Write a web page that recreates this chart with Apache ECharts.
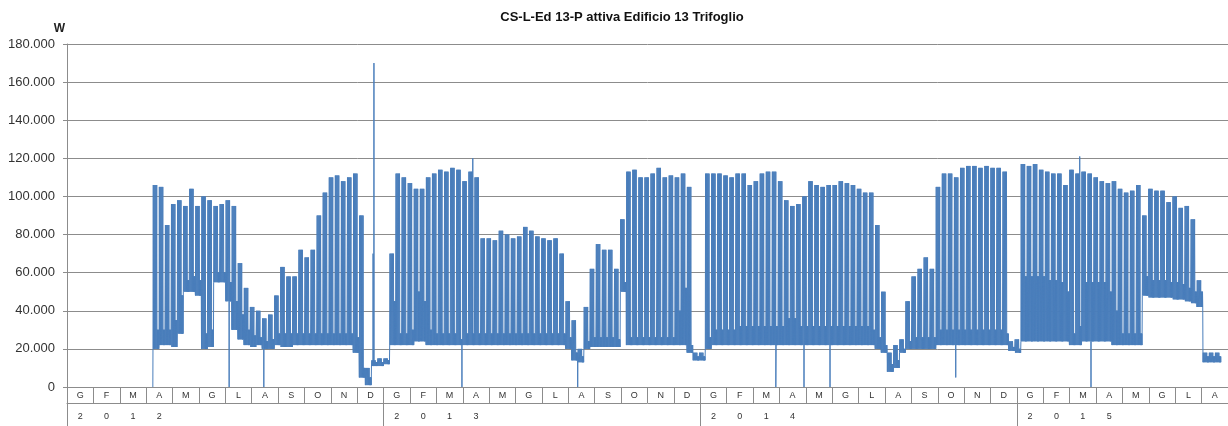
<!DOCTYPE html>
<html>
<head>
<meta charset="utf-8">
<script src="https://cdn.jsdelivr.net/npm/echarts@6/dist/echarts.min.js"></script>
<style>
html,body{margin:0;padding:0;background:#fff;}
#chart{width:1228px;height:426px;}
</style>
</head>
<body>
<div id="chart"></div>
<script>
// ---- tick labels ----
const monthLetters = [
  'G','F','M','A','M','G','L','A','S','O','N','D',
  'G','F','M','A','M','G','L','A','S','O','N','D',
  'G','F','M','A','M','G','L','A','S','O','N','D',
  'G','F','M','A','M','G','L','A'
];
const yearRowLabels = [
  '2','0','1','2','','','','','','','','',
  '2','0','1','3','','','','','','','','',
  '2','0','1','4','','','','','','','','',
  '2','0','1','5','','','',''
];

// ---- weekly readings (kW): weekday peak, night base, weekend top ----
// week index k starts on Monday, day = 1 + 7k (days since 2012-01-01)
const firstWeek2012 = 14;
const peak2012 = [106,105,85,96,98,95,104,95,100,98,95,96,98,95,65,52,42,40,36,38,48,63,58,58,72,68,72,90,102,110,111,108,110,112,90,10,14,15];
const base2012 = [20,22,22,21,28,50,50,48,20,21,55,55,45,30,25,22,21,22,20,20,22,21,21,22,22,22,22,22,22,22,22,22,22,18,5,1,11,11];
const wend2012 = [30,30,30,35,48,56,58,56,28,30,60,60,55,45,38,30,27,26,24,25,28,28,28,28,28,28,28,28,28,28,28,28,28,26,10,5,13,13];

const firstWeek2013 = 52;
const peak2013 = [15,70,112,110,107,104,104,110,112,114,113,115,114,108,113,110,78,78,77,82,80,78,79,84,82,79,78,77,78,70,45,35,20,42,62,75,72,72,62,88,113,114,110,110,112,115,110,111,110,112,105,18];
const base2013 = [12,22,22,22,22,24,24,22,22,22,22,22,22,22,22,22,22,22,22,22,22,22,22,22,22,22,22,22,22,22,20,14,13,20,21,21,21,21,21,50,22,22,22,22,22,22,22,22,22,22,18,14];
const wend2013 = [14,45,28,28,30,50,45,30,28,28,28,28,25,28,28,28,28,28,28,28,28,28,28,28,28,28,28,28,28,28,26,18,16,24,26,26,26,26,25,55,26,26,26,26,26,26,26,26,40,52,22,16];

const firstWeek2014 = 104;
const peak2014 = [18,112,112,112,111,110,112,112,106,108,112,113,113,108,98,95,96,100,108,106,105,106,106,108,107,106,104,102,102,85,50,18,22,25,45,58,62,68,62,105,112,112,110,115,116,116,115,116,115,115,113,24];
const base2014 = [14,20,22,22,22,22,22,22,22,22,22,22,22,22,22,22,22,22,22,22,22,22,22,22,22,22,22,22,22,20,18,8,10,18,20,20,20,20,20,22,22,22,22,22,22,22,22,22,22,22,22,19];
const wend2014 = [16,26,30,30,30,30,32,32,32,32,32,32,32,32,36,36,32,32,32,32,32,32,32,32,32,32,32,32,30,26,22,12,14,20,24,26,26,26,26,30,30,30,30,30,30,30,30,30,30,30,28,21];

const firstWeek2015 = 156;
const peak2015 = [25,117,116,117,114,113,112,112,106,114,112,113,112,110,108,107,108,104,102,103,106,90,104,103,103,97,100,94,95,88,56,18,18,18];
const base2015 = [18,24,24,24,24,24,24,24,24,22,22,24,24,24,24,24,22,22,22,22,22,48,47,47,47,47,46,46,45,44,42,13,13,13];
const wend2015 = [20,58,58,58,58,56,56,55,50,28,32,55,55,55,55,50,40,28,28,28,28,58,56,56,56,55,55,54,52,50,50,16,16,16];

// ---- isolated readings (zero drops and outliers) ----
const spikeDay = [99, 187, 227, 353, 354, 455.5, 468, 589, 817.5, 850, 880, 1025, 1168, 1181];
const spikeW   = [0, 0, 0, 70000, 170000, 0, 120000, 0, 0, 0, 0, 5000, 121000, 0];

// ---- build the series from the readings ----
const points = [];
function addYear(firstWeek, peak, base, wend) {
  peak.forEach((pk, i) => {
    const d0 = 1 + 7 * (firstWeek + i);
    const p = pk * 1000, n = base[i] * 1000, w = wend[i] * 1000;
    for (let d = 0; d < 5; d++) {
      points.push([d0 + d + 0.15, n], [d0 + d + 0.5, p], [d0 + d + 0.85, n]);
    }
    for (let d = 5; d < 7; d++) {
      points.push([d0 + d + 0.125, w], [d0 + d + 0.375, n], [d0 + d + 0.625, w], [d0 + d + 0.875, n]);
    }
  });
}
addYear(firstWeek2012, peak2012, base2012, wend2012);
addYear(firstWeek2013, peak2013, base2013, wend2013);
addYear(firstWeek2014, peak2014, base2014, wend2014);
addYear(firstWeek2015, peak2015, base2015, wend2015);
spikeDay.forEach((d, i) => points.push([d, spikeW[i]]));
points.sort((a, b) => a[0] - b[0]);

const totalDays = 366 + 365 + 365 + 243;
const cellIds = monthLetters.map((_, i) => 'm' + i);
const gridColor = '#8c8c8c';
const narrow = '"Liberation Sans Narrow", "Liberation Sans", sans-serif';

const chart = echarts.init(document.getElementById('chart'), null, {renderer: 'canvas'});
chart.setOption({
  animation: false,
  backgroundColor: '#ffffff',
  title: {
    text: 'CS-L-Ed 13-P attiva Edificio 13 Trifoglio',
    left: 622, top: 11, textAlign: 'center', padding: 0,
    textStyle: {fontSize: 13, fontWeight: 'bold', color: '#111', fontFamily: narrow}
  },
  grid: {left: 67, top: 44, height: 343, width: 1173},
  xAxis: [
    {type: 'value', min: 0, max: totalDays, show: false},
    {
      type: 'category', data: cellIds, position: 'bottom', offset: 0,
      axisLine: {show: true, lineStyle: {color: gridColor, width: 1}},
      axisTick: {show: true, interval: 0, length: 16, lineStyle: {color: gridColor}},
      axisLabel: {interval: 0, margin: 4, fontSize: 9, color: '#333', fontFamily: narrow,
        formatter: (v, i) => monthLetters[i]},
      splitLine: {show: false}
    },
    {
      type: 'category', data: cellIds, position: 'bottom', offset: 16,
      axisLine: {show: true, lineStyle: {color: gridColor, width: 1}},
      axisTick: {show: true, interval: (i) => i % 12 === 0, length: 23, lineStyle: {color: gridColor}},
      axisLabel: {interval: 0, margin: 9, fontSize: 9, color: '#333', fontFamily: narrow,
        formatter: (v, i) => yearRowLabels[i]},
      splitLine: {show: false}
    }
  ],
  yAxis: {
    type: 'value', min: 0, max: 180000, interval: 20000,
    name: 'W', nameLocation: 'end', nameGap: 9,
    nameTextStyle: {fontWeight: 'bold', fontSize: 12, color: '#222', align: 'right', padding: [0, 2, 0, 0],
      fontFamily: '"Liberation Sans", Arial, sans-serif'},
    axisLine: {show: true, lineStyle: {color: gridColor, width: 1}},
    axisTick: {show: true, length: 4, lineStyle: {color: gridColor}},
    splitLine: {show: true, lineStyle: {color: gridColor, width: 1}},
    axisLabel: {margin: 12, fontSize: 13, color: '#333',
      fontFamily: '"Liberation Sans", Arial, sans-serif',
      formatter: (v) => v === 0 ? '0' : (v / 1000) + '.000'}
  },
  series: [{
    type: 'line', xAxisIndex: 0, yAxisIndex: 0,
    data: points, showSymbol: false, symbol: 'none',
    lineStyle: {color: '#4a7ebb', width: 1},
    itemStyle: {color: '#4a7ebb'},
    clip: true, silent: true
  }]
});
</script>
</body>
</html>
